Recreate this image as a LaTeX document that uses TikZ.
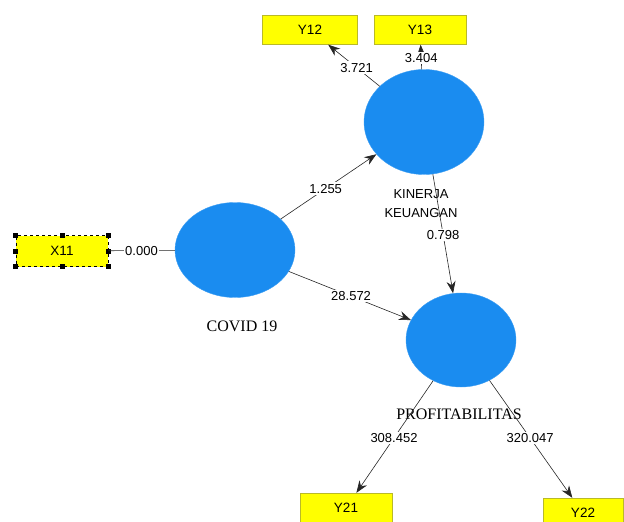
\documentclass[tikz,border=0pt]{standalone}
\usepackage{fontspec}
\setmainfont{Liberation Serif}
\setsansfont{Liberation Sans}
\usepackage{xcolor}
\usetikzlibrary{arrows.meta, shapes.geometric}

\definecolor{lvblue}{RGB}{26,140,240}
\definecolor{boxyellow}{RGB}{255,255,0}
\definecolor{boxedge}{RGB}{185,185,40}

\tikzset{
    latent/.style={ellipse, fill=lvblue, draw=lvblue!85!white, inner sep=0pt},
    indic/.style={rectangle, fill=boxyellow, draw=boxedge, minimum height=29pt,
        inner sep=0pt, font=\sffamily\fontsize{13.5}{15}\selectfont},
    pathlbl/.style={fill=white, inner sep=1.5pt, font=\sffamily\fontsize{13}{15}\selectfont},
    arc/.style={draw=black!85, line width=0.6pt, -{Stealth[length=12pt,width=9pt]}}
}

\begin{document}
\begin{tikzpicture}[x=1pt, y=-1pt]

        % 1. 畫布大小
        \useasboundingbox (0,0) rectangle (624,522);
        \clip (0,0) rectangle (624,522);

        % 2. 潛在變數 (藍色橢圓)
        \node[latent, minimum width=120pt, minimum height=105pt] (kinerja) at (424,122) {};
        \node[latent, minimum width=120pt, minimum height=95pt]  (covid)   at (235,250) {};
        \node[latent, minimum width=110pt, minimum height=94pt]  (profit)  at (461,340) {};

        % 3. 指標 (黃色方框)
        \node[indic, minimum width=95pt] (y12) at (310,30)  {Y12};
        \node[indic, minimum width=92pt] (y13) at (420,30)  {Y13};
        \node[indic, minimum width=92pt, minimum height=31pt, draw=black, dashed] (x11) at (62,251) {X11};
        \node[indic, minimum width=92pt, minimum height=30pt] (y21) at (346,508) {Y21};
        \node[indic, minimum width=80pt, minimum height=30pt] (y22) at (583,513) {Y22};

        % X11 的選取控制點
        \foreach \a in {north west, north, north east, east, south east, south, south west, west} {
            \fill[black] (x11.\a) +(-2.5,-2.5) rectangle +(2.5,2.5);
        }

        % 4. 變數名稱
        \node[align=center, font=\sffamily\fontsize{13}{19}\selectfont] (kinlbl) at (421,204) {KINERJA\\KEUANGAN};
        \node[font=\fontsize{16}{18}\selectfont] (covidlbl) at (242,326) {COVID 19};
        \node[font=\fontsize{16}{18}\selectfont] (profitlbl) at (459,414) {PROFITABILITAS};

        % 5. 路徑與係數
        \draw[arc] (kinerja) -- node[pathlbl, pos=0.45] (c12) {3.721} (y12);
        \draw[arc] (kinerja) -- node[pathlbl, pos=0.45] (c13) {3.404} (y13);
        \draw[draw=black!85, line width=0.6pt] (x11) -- node[pathlbl, pos=0.5] (c11) {0.000} (covid);
        \draw[arc] (covid) -- node[pathlbl, pos=0.47] (c1) {1.255} (kinerja);
        \draw[arc] (covid) -- node[pathlbl, pos=0.51] (c2) {28.572} (profit);
        \draw[arc] (kinerja) -- node[pathlbl, pos=0.51] (c3) {0.798} (profit);
        \draw[arc] (profit) -- node[pathlbl, pos=0.51] (c21) {308.452} (y21);
        \draw[arc] (profit) -- node[pathlbl, pos=0.49] (c22) {320.047} (y22);

    \end{tikzpicture}
\end{document}
